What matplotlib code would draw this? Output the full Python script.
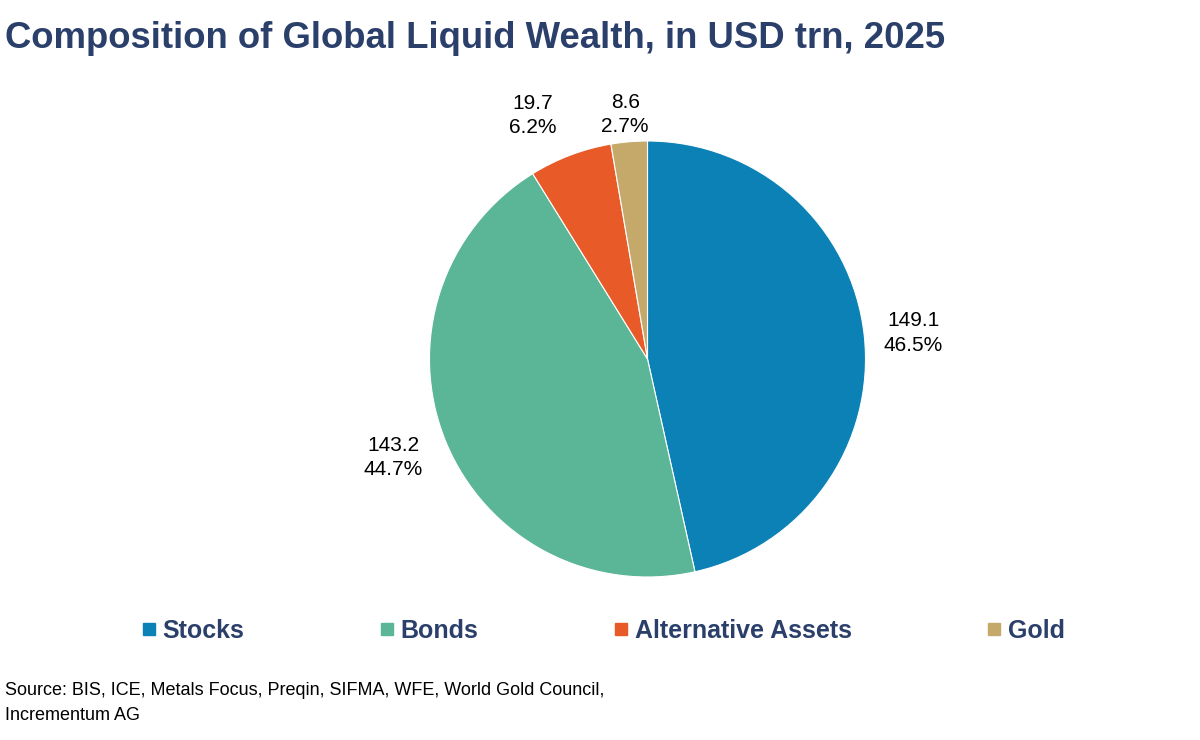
import matplotlib.pyplot as plt
from matplotlib.lines import Line2D
import numpy as np

plt.rcParams['font.family'] = ['Liberation Sans', 'DejaVu Sans']

# data
categories = ['Stocks', 'Bonds', 'Alternative Assets', 'Gold']
values = [149.1, 143.2, 19.7, 8.6]
shares = ['46.5%', '44.7%', '6.2%', '2.7%']
colors = ['#0B81B5', '#5BB597', '#E85A28', '#C4A96B']
# label placement (radius factor, angle tweak in degrees)
label_dist = [1.225, 1.25, 1.235, 1.125]
label_shift = [-0.7, -1.0, 4.5, 0.4]

navy = '#2B3F6B'

fig = plt.figure(figsize=(12, 7.4), dpi=100)
ax = fig.add_axes([(647.5 - 218) / 1200, 1 - (359 + 218) / 740, 436 / 1200, 436 / 740])

wedges, _ = ax.pie(values, colors=colors, startangle=90, counterclock=False,
                   radius=1, wedgeprops=dict(edgecolor='white', linewidth=0.8))
ax.set_xlim(-1, 1)
ax.set_ylim(-1, 1)
ax.set_aspect('equal')
ax.axis('off')

for w, v, s, d, sh in zip(wedges, values, shares, label_dist, label_shift):
    ang = np.deg2rad((w.theta1 + w.theta2) / 2 + sh)
    ax.text(d * np.cos(ang), d * np.sin(ang), f'{v:.1f}\n{s}', ha='center', va='center',
            fontsize=15, color='black', linespacing=1.36, clip_on=False)

fig.text(0.004, 1 - 48 / 740, 'Composition of Global Liquid Wealth, in USD trn, 2025',
         fontsize=26.3, fontweight='bold', color=navy, ha='left', va='baseline')

handles = [Line2D([], [], marker='s', linestyle='none', markersize=9,
                  markerfacecolor=c, markeredgecolor=c) for c in colors]
leg = fig.legend(handles, categories, loc='center', bbox_to_anchor=(0.503, 1 - 631 / 740),
                 ncol=4, frameon=False, handlelength=0.5, handletextpad=0.3,
                 columnspacing=5.45, prop=dict(size=18, weight='bold'))
for t in leg.get_texts():
    t.set_color(navy)

fig.text(0.004, 1 - 703 / 740, 'Source: BIS, ICE, Metals Focus, Preqin, SIFMA, WFE, World Gold Council,\nIncrementum AG',
         fontsize=13, color='black', ha='left', va='center', linespacing=1.67)

fig.savefig('out.png', dpi=100, facecolor='white')
